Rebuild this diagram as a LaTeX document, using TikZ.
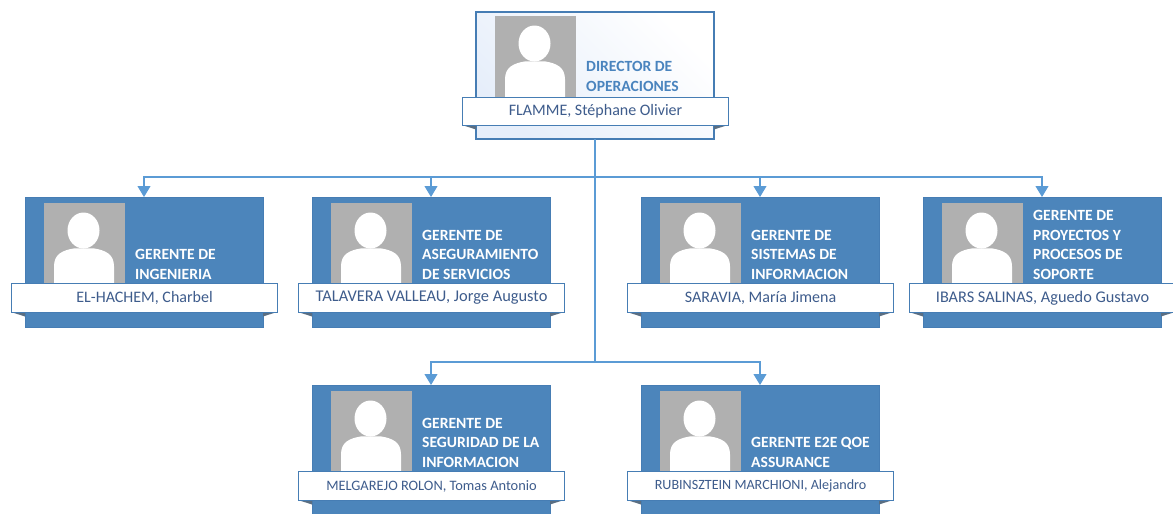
\documentclass[tikz,border=0pt]{standalone}
\usepackage{fontspec}
\setmainfont{Carlito}
\usetikzlibrary{arrows.meta,calc}
\definecolor{cardblue}{RGB}{76,133,187}
\definecolor{edgeblue}{RGB}{70,125,180}
\definecolor{linkblue}{RGB}{91,155,213}
\definecolor{photogray}{RGB}{176,176,176}
\definecolor{titleblue}{RGB}{74,132,190}
\definecolor{nameblue}{RGB}{62,92,140}
\definecolor{foldgray}{RGB}{90,110,130}
\definecolor{paleblue}{RGB}{230,238,250}
\tikzset{
  cardbase/.style={minimum width=238pt,minimum height=130pt,inner sep=0pt,outer sep=0pt,anchor=north west},
  cardfilled/.style={cardbase,draw=edgeblue,line width=.8pt,fill=cardblue},
  cardlight/.style={cardbase,minimum height=127pt,draw=edgeblue,line width=1.1pt,left color=paleblue,right color=white,shading angle=135},
  bannerbox/.style={draw=edgeblue,line width=1.1pt,fill=white,minimum width=266pt,inner sep=0pt,anchor=north west,text=nameblue},
  photobox/.style={fill=photogray,minimum width=81pt,minimum height=81pt,inner sep=0pt,anchor=north west},
  titletext/.style={anchor=south west,inner sep=0pt,align=left,font=\fontsize{15.6}{19.7}\selectfont\bfseries},
  conn/.style={draw=linkblue,line width=1.1pt,-{Triangle[length=11pt,width=13pt,fill=linkblue]}},
  trunk/.style={draw=linkblue,line width=1.1pt},
  foldtip/.style={fill=foldgray,draw=none}
}
% geometry that differs on the top card
\newcommand{\photoy}{6}
\newcommand{\titley}{83}
\newcommand{\bannery}{86}
\newcommand{\bannerh}{29}
% #1 name, #2 x, #3 y, #4 card style, #5 title colour, #6 title, #7 person, #8 person font size
\newcommand{\orgcard}[8]{
  \node[#4] (#1) at (#2,#3) {};
  \node[photobox] (#1p) at ($(#2,#3)+(19,\photoy)$) {};
  \fill[white] ($(#1p.north west)+(39.5,27.5)$) ellipse (16pt and 18pt);
  \fill[white] ($(#1p.south west)+(10,1)$) -- ($(#1p.south west)+(10,-18)$) .. controls ($(#1p.south west)+(10,-30)$) and ($(#1p.south west)+(18,-34)$) .. ($(#1p.south west)+(30,-36)$)
     -- ($(#1p.south west)+(50,-36)$) .. controls ($(#1p.south west)+(62,-34)$) and ($(#1p.south west)+(70,-30)$) .. ($(#1p.south west)+(70,-18)$) -- ($(#1p.south west)+(70,1)$) -- cycle;
  \node[titletext,text=#5] (#1t) at ($(#2,#3)+(110,\titley)$) {#6};
  \fill[foldtip] ($(#2,#3)+(-14,\bannery+\bannerh)$) -- ($(#2,#3)+(0,\bannery+\bannerh)$) -- ($(#2,#3)+(0,\bannery+\bannerh+4.5)$) -- cycle;
  \fill[foldtip] ($(#2,#3)+(252,\bannery+\bannerh)$) -- ($(#2,#3)+(238,\bannery+\bannerh)$) -- ($(#2,#3)+(238,\bannery+\bannerh+4.5)$) -- cycle;
  \node[bannerbox,minimum height=\bannerh pt,font=\fontsize{#8}{#8}\selectfont] (#1b) at ($(#2,#3)+(-14,\bannery)$) {#7};
}
\begin{document}
\begin{tikzpicture}[x=1pt,y=-1pt]
\useasboundingbox (0,0) rectangle (1173,514);
\renewcommand{\photoy}{4}\renewcommand{\titley}{80}\renewcommand{\bannery}{85}\renewcommand{\bannerh}{28}
\orgcard{top}{476}{12}{cardlight}{titleblue}{DIRECTOR DE\\OPERACIONES}{FLAMME, Stéphane Olivier}{16}
\renewcommand{\photoy}{6}\renewcommand{\titley}{83}\renewcommand{\bannery}{86}\renewcommand{\bannerh}{29}
\orgcard{ca}{25}{197}{cardfilled}{white}{GERENTE DE\\INGENIERIA}{EL-HACHEM, Charbel}{16}
\orgcard{cb}{312}{197}{cardfilled}{white}{GERENTE DE\\ASEGURAMIENTO\\DE SERVICIOS}{TALAVERA VALLEAU, Jorge Augusto}{16.4}
\orgcard{cc}{641}{197}{cardfilled}{white}{GERENTE DE\\SISTEMAS DE\\INFORMACION}{SARAVIA, María Jimena}{16}
\orgcard{cd}{923}{197}{cardfilled}{white}{GERENTE DE\\PROYECTOS Y\\PROCESOS DE\\SOPORTE}{IBARS SALINAS, Aguedo Gustavo}{16.3}
\orgcard{ce}{312}{385}{cardfilled}{white}{GERENTE DE\\SEGURIDAD DE LA\\INFORMACION}{MELGAREJO ROLON, Tomas Antonio}{14.4}
\orgcard{cf}{641}{385}{cardfilled}{white}{GERENTE E2E QOE\\ASSURANCE}{RUBINSZTEIN MARCHIONI, Alejandro}{14.1}
\coordinate (busa) at (top.south |- 0,177);
\coordinate (busb) at (top.south |- 0,362);
\draw[trunk] (top.south) -- (busb);
\draw[conn] (busa) -| (ca.north);
\draw[conn] (busa) -| (cb.north);
\draw[conn] (busa) -| (cc.north);
\draw[conn] (busa) -| (cd.north);
\draw[conn] (busb) -| (ce.north);
\draw[conn] (busb) -| (cf.north);
\end{tikzpicture}
\end{document}
